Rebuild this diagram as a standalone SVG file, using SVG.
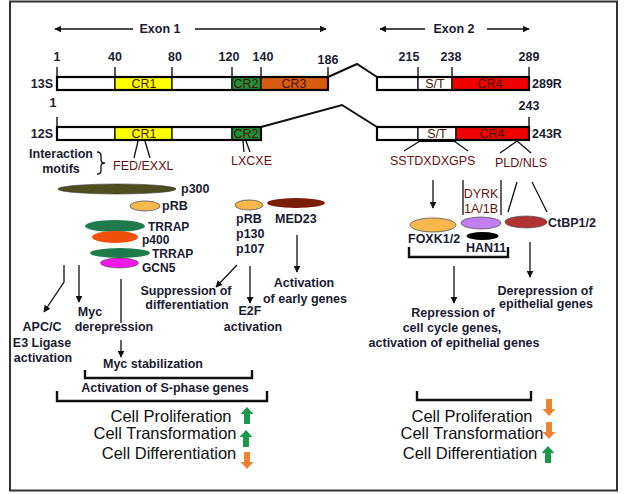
<svg xmlns="http://www.w3.org/2000/svg" width="624" height="494" viewBox="0 0 624 494">
<defs>
<style>
text{font-family:"Liberation Sans",Arial,sans-serif;}
.b{font-size:12.5px;font-weight:bold;fill:#1b1b30;}
.s{font-size:12px;font-weight:bold;fill:#1b1b30;}
.n{font-size:12.5px;fill:#1b1b30;}
.m{font-size:12.5px;fill:#6a1010;}
.cr{font-size:12.5px;fill:#4a1500;text-anchor:middle;}
.big{font-size:16.5px;fill:#111;text-anchor:middle;}
.c{text-anchor:middle;}
.e{text-anchor:end;}
.seg{stroke:#000;stroke-width:1.2;}
.out{fill:none;stroke:#000;stroke-width:2.2;}
.ln{fill:none;stroke:#111;stroke-width:1.3;}
.ar{fill:none;stroke:#111;stroke-width:1.3;marker-end:url(#ah);}
.br{fill:none;stroke:#111;stroke-width:2.4;}
.tk{stroke:#000;stroke-width:1.3;}
</style>
<marker id="ah" viewBox="0 0 10 10" refX="9" refY="5" markerWidth="7" markerHeight="7" markerUnits="userSpaceOnUse" orient="auto"><path d="M0,0 L10,5 L0,10 Z" fill="#111"/></marker>
<path id="up" d="M0,0 L6.5,7 L3,7 L3,17 L-3,17 L-3,7 L-6.5,7 Z"/>
<path id="dn" d="M0,17 L6.5,10 L3,10 L3,0 L-3,0 L-3,10 L-6.5,10 Z"/>
</defs>
<rect x="10" y="1.5" width="607" height="489" fill="#fff" stroke="#333" stroke-width="2"/>

<g id="exon-labels">
<text class="b c" x="160" y="33">Exon 1</text>
<text class="b c" x="454" y="33">Exon 2</text>
</g>
<g id="connectors">
<line class="ar" x1="133" y1="29" x2="55" y2="29"/>
<line class="ar" x1="195" y1="29" x2="326" y2="29"/>
<line class="ar" x1="425" y1="29" x2="380" y2="29"/>
<line class="ar" x1="487" y1="29" x2="529" y2="29"/>
<line class="tk" x1="57" y1="67" x2="57" y2="77"/>
<line class="tk" x1="115" y1="67" x2="115" y2="77"/>
<line class="tk" x1="172" y1="67" x2="172" y2="77"/>
<line class="tk" x1="232" y1="67" x2="232" y2="77"/>
<line class="tk" x1="261" y1="67" x2="261" y2="77"/>
<line class="tk" x1="328" y1="67" x2="328" y2="77"/>
<line class="tk" x1="418" y1="67" x2="418" y2="77"/>
<line class="tk" x1="452" y1="67" x2="452" y2="77"/>
<line class="tk" x1="529" y1="67" x2="529" y2="77"/>
<line class="tk" x1="57" y1="117" x2="57" y2="127"/>
<line class="tk" x1="529" y1="117" x2="529" y2="127"/>
<polyline fill="none" stroke="#111" stroke-width="2" points="328,77 357,64 377,77"/>
<polyline fill="none" stroke="#111" stroke-width="2" points="261,127 342,105 377,127"/>
<line class="ln" x1="138" y1="141" x2="134" y2="158"/>
<line class="ln" x1="145" y1="141" x2="150" y2="158"/>
<line class="ln" x1="243" y1="141" x2="244" y2="152"/>
<line class="ln" x1="246" y1="141" x2="250" y2="152"/>
<line class="ln" x1="420" y1="141" x2="404" y2="151"/>
<line class="ln" x1="454" y1="141" x2="468" y2="151"/>
<line class="ln" x1="517" y1="141" x2="500" y2="153"/>
<line class="ln" x1="517" y1="141" x2="531" y2="153"/>
<polyline class="ar" points="64,265 64,282 44,312"/>
<line class="ar" x1="79" y1="265" x2="79" y2="302"/>
<line class="ln" x1="121" y1="279" x2="121" y2="323"/>
<line class="ar" x1="121" y1="340" x2="121" y2="357"/>
<line class="ar" x1="237" y1="265" x2="216" y2="287"/>
<line class="ar" x1="250" y1="266" x2="250" y2="303"/>
<line class="ar" x1="297" y1="235" x2="297" y2="272"/>
<line class="ar" x1="433" y1="180" x2="433" y2="208"/>
<line class="ln" x1="463" y1="180" x2="463" y2="215"/>
<line class="ln" x1="501" y1="180" x2="501" y2="215"/>
<line class="ln" x1="517" y1="182" x2="508" y2="212"/>
<line class="ln" x1="532" y1="182" x2="547" y2="212"/>
<line class="ar" x1="454" y1="266" x2="454" y2="303"/>
<line class="ar" x1="530" y1="242" x2="530" y2="277"/>
<polyline class="br" points="85,370 85,378 252,378 252,370"/>
<polyline class="br" points="57,391 57,401 267,401 267,391"/>
<polyline class="br" points="409,247 409,257 508,257 508,247"/>
<polyline class="br" points="417,391 417,400 531,400 531,391"/>
</g>

<g id="numbers">
<text class="b c" x="57" y="61">1</text>
<text class="b c" x="115" y="61">40</text>
<text class="b c" x="175" y="61">80</text>
<text class="b c" x="229" y="61">120</text>
<text class="b c" x="263" y="61">140</text>
<text class="b c" x="328" y="64">186</text>
<text class="b c" x="409" y="61">215</text>
<text class="b c" x="451" y="61">238</text>
<text class="b c" x="529" y="61">289</text>
<text class="b c" x="53" y="107">1</text>
<text class="b c" x="529" y="110">243</text>
</g>

<g id="bar-13S">
<rect class="seg" x="57" y="77" width="58" height="13" fill="#fff"/>
<rect class="seg" x="115" y="77" width="57" height="13" fill="#ffff00"/>
<rect class="seg" x="172" y="77" width="60" height="13" fill="#fff"/>
<rect class="seg" x="232" y="77" width="29" height="13" fill="#1f8f3c"/>
<rect class="seg" x="261" y="77" width="67" height="13" fill="#d85c12"/>
<rect class="out" x="57" y="77" width="271" height="13"/>
<text class="cr" x="144" y="88">CR1</text>
<text class="cr" x="246" y="88">CR2</text>
<text class="cr" x="294" y="88">CR3</text>
<text class="b e" x="53" y="88">13S</text>
</g>
<g id="bar-289R">
<rect class="seg" x="377" y="77" width="41" height="13" fill="#fff"/>
<rect class="seg" x="418" y="77" width="34" height="13" fill="#fff"/>
<rect class="seg" x="452" y="77" width="77" height="13" fill="#f00000"/>
<rect class="out" x="377" y="77" width="152" height="13"/>
<text class="cr" x="435" y="88">S/T</text>
<text class="cr" x="490" y="88">CR4</text>
<text class="b" x="532" y="88">289R</text>
</g>
<g id="bar-12S">
<rect class="seg" x="57" y="127" width="58" height="13" fill="#fff"/>
<rect class="seg" x="115" y="127" width="57" height="13" fill="#ffff00"/>
<rect class="seg" x="172" y="127" width="60" height="13" fill="#fff"/>
<rect class="seg" x="232" y="127" width="29" height="13" fill="#1f8f3c"/>
<rect class="out" x="57" y="127" width="204" height="13"/>
<text class="cr" x="144" y="138">CR1</text>
<text class="cr" x="246" y="138">CR2</text>
<text class="b e" x="53" y="138">12S</text>
</g>
<g id="bar-243R">
<rect class="seg" x="377" y="127" width="41" height="13" fill="#fff"/>
<rect class="seg" x="418" y="127" width="38" height="13" fill="#fff"/>
<rect class="seg" x="456" y="127" width="73" height="13" fill="#f00000"/>
<rect class="out" x="377" y="127" width="152" height="13"/>
<line x1="418" y1="140.5" x2="456" y2="140.5" stroke="#000" stroke-width="3"/>
<text class="cr" x="437" y="138">S/T</text>
<text class="cr" x="492" y="138">CR4</text>
<text class="b" x="532" y="138">243R</text>
</g>

<g id="motifs">
<text class="b c" x="61" y="158">Interaction</text>
<text class="b c" x="61" y="173">motifs</text>
<path d="M97,152 Q101,152 101,156 L101,160 Q101,163 105,163 Q101,163 101,166 L101,171 Q101,174 97,174" fill="none" stroke="#111" stroke-width="1.3"/>
<text class="m" x="113" y="170">FED/EXXL</text>
<text class="m" x="231" y="165">LXCXE</text>
<text class="m" x="390" y="165">SSTDXDXGPS</text>
<text class="m" x="495" y="167">PLD/NLS</text>
</g>

<g id="node-p300"><ellipse cx="117" cy="189" rx="59" ry="5" fill="#4e4e20" stroke="#333" stroke-width="0.6"/><text class="b" x="181" y="193">p300</text></g>
<g id="node-pRB"><ellipse cx="145" cy="206" rx="15" ry="5" fill="#f5b84c" stroke="#555" stroke-width="0.8"/><text class="b" x="162" y="210">pRB</text></g>
<g id="node-TRRAP1"><ellipse cx="115" cy="226" rx="30" ry="6" fill="#1f7a4c"/><text class="s" x="148" y="230.5">TRRAP</text></g>
<g id="node-p400"><ellipse cx="115" cy="237" rx="23" ry="6" fill="#f24e0c"/><text class="s" x="142" y="244">p400</text></g>
<g id="node-TRRAP2"><ellipse cx="120" cy="253" rx="30" ry="5" fill="#1f7a4c"/><text class="s" x="152" y="258">TRRAP</text></g>
<g id="node-GCN5"><ellipse cx="119.5" cy="263" rx="19" ry="5" fill="#ee1ae8" stroke="#444" stroke-width="0.6"/><text class="s" x="142" y="272">GCN5</text></g>

<g id="node-pRB-family"><ellipse cx="249" cy="205" rx="14" ry="5" fill="#f5b84c" stroke="#555" stroke-width="0.8"/>
<text class="b" x="236" y="223">pRB</text><text class="b" x="236" y="238">p130</text><text class="b" x="236" y="253">p107</text></g>
<g id="node-MED23"><ellipse cx="296" cy="203" rx="29" ry="5" fill="#7a1e06"/><text class="b" x="275" y="223">MED23</text></g>

<g id="outcomes-left">
<text class="b c" x="42" y="331">APC/C</text>
<text class="b c" x="42" y="347">E3 Ligase</text>
<text class="b c" x="43" y="362">activation</text>
<text class="b c" x="90" y="316">Myc</text>
<text class="b c" x="114" y="331">derepression</text>
<text class="b c" x="186" y="295">Suppression of</text>
<text class="b c" x="187" y="309">differentiation</text>
<text class="b c" x="250" y="315">E2F</text>
<text class="b c" x="253" y="331">activation</text>
<text class="b c" x="304" y="287">Activation</text>
<text class="b c" x="305" y="303">of early genes</text>
<text class="b c" x="153" y="368">Myc stabilization</text>
<text class="b c" x="165" y="392">Activation of S-phase genes</text>
</g>

<g id="node-FOXK"><ellipse cx="433" cy="225" rx="23" ry="7" fill="#f5b84c" stroke="#555" stroke-width="0.8"/><text class="b" x="408" y="243">FOXK1/2</text></g>
<g id="node-DYRK"><ellipse cx="481" cy="223" rx="20" ry="6" fill="#c07ef0" stroke="#555" stroke-width="0.8"/>
<text class="m" x="481" y="198" text-anchor="middle">DYRK</text><text class="m" x="481" y="213" text-anchor="middle">1A/1B</text></g>
<g id="node-HAN11"><ellipse cx="482.5" cy="236" rx="16" ry="4" fill="#000"/><text class="b" x="466" y="252">HAN11</text></g>
<g id="node-CtBP"><ellipse cx="526" cy="222" rx="21" ry="6" fill="#b03232" stroke="#555" stroke-width="0.8"/><text class="b" x="548" y="227">CtBP1/2</text></g>

<g id="outcomes-right">
<text class="b c" x="453" y="317">Repression of</text>
<text class="b c" x="452" y="332">cell cycle genes,</text>
<text class="b c" x="454" y="347">activation of epithelial genes</text>
<text class="b c" x="545" y="295">Derepression of</text>
<text class="b c" x="546" y="308">epithelial genes</text>
</g>

<g id="summary-left">
<text class="big" x="171" y="422">Cell Proliferation</text>
<text class="big" x="165" y="439">Cell Transformation</text>
<text class="big" x="169" y="459">Cell Differentiation</text>
<use href="#up" x="247" y="407" fill="#1a9a48"/>
<use href="#up" x="246" y="430" fill="#1a9a48"/>
<use href="#dn" x="247" y="452" fill="#f08232"/>
</g>
<g id="summary-right">
<text class="big" x="472" y="422">Cell Proliferation</text>
<text class="big" x="472" y="439">Cell Transformation</text>
<text class="big" x="470" y="459">Cell Differentiation</text>
<use href="#dn" x="549" y="399" fill="#f08232"/>
<use href="#dn" x="549" y="422" fill="#f08232"/>
<use href="#up" x="548" y="446" fill="#1a9a48"/>
</g>
</svg>
